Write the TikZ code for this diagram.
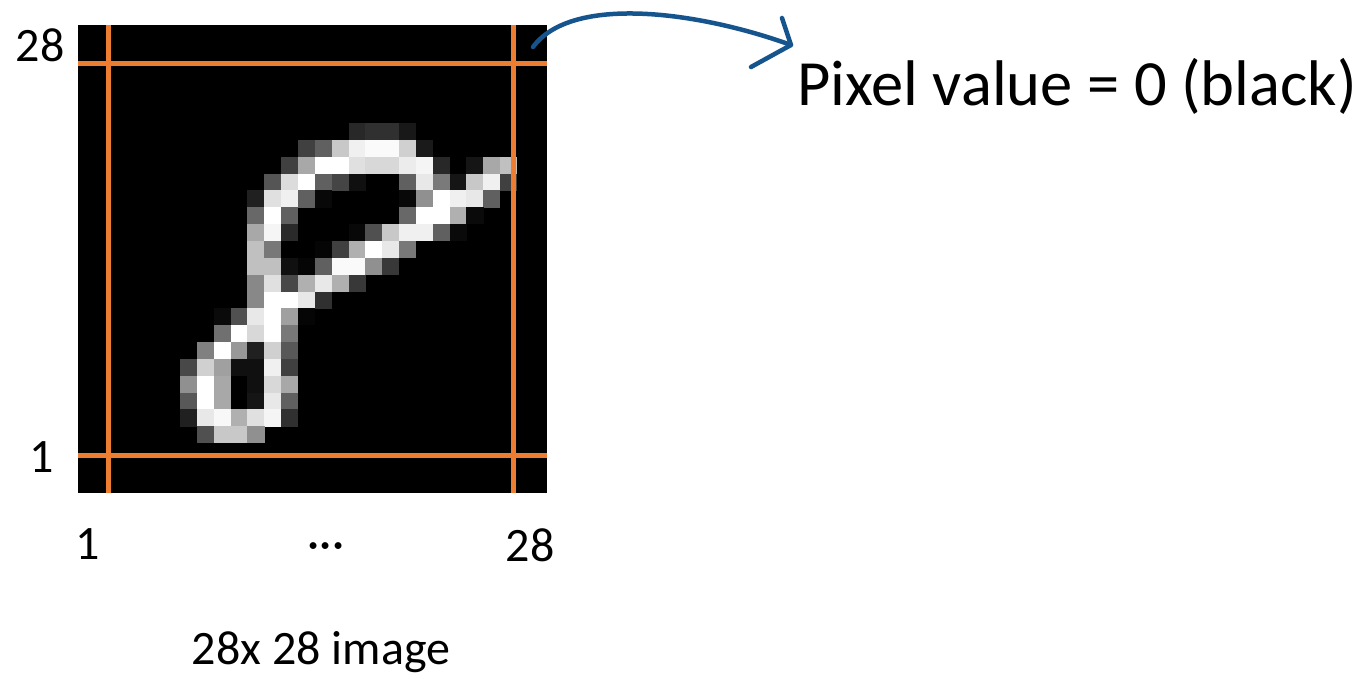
\documentclass[tikz,border=0pt]{standalone}
\usepackage{fontspec}
\setmainfont{Carlito}
\definecolor{gridorange}{RGB}{237,125,49}
\definecolor{inkblue}{RGB}{22,84,142}
\begin{document}
\begin{tikzpicture}[x=1pt,y=-1pt,
  axislabel/.style={font=\fontsize{48}{57}\selectfont, inner sep=0pt, anchor=base},
  bigtext/.style={font=\fontsize{64.5}{77}\selectfont, inner sep=0pt, anchor=base west},
  gridline/.style={draw=gridorange, line width=5pt},
  handarrow/.style={draw=inkblue, line width=4.5pt, line cap=round, line join=round},
  pixelbox/.style={fill=black, draw=none, inner sep=0pt, minimum width=469pt, minimum height=468pt, anchor=north west}]
\useasboundingbox (0,0) rectangle (1368,678);
\fill[white] (0,0) rectangle (1368,678);

% the 28x28 grayscale digit
\node[pixelbox] (digit) at (78,25) {};
\begin{scope}
  \clip (78,25) rectangle (547,493);
  \foreach \c/\r/\g in {
    16/6/40, 17/6/48, 18/6/48, 19/6/24,
    13/7/64, 14/7/96, 15/7/200, 16/7/240, 17/7/250, 18/7/250, 19/7/208, 20/7/26,
    12/8/64, 13/8/168, 14/8/255, 15/8/255, 16/8/224, 17/8/216, 18/8/216, 19/8/236, 20/8/245, 21/8/40, 23/8/21, 24/8/168, 25/8/192,
    11/9/85, 12/9/220, 13/9/255, 14/9/96, 15/9/69, 16/9/16, 19/9/96, 20/9/232, 21/9/122, 22/9/21, 23/9/200, 24/9/240, 25/9/64,
    10/10/32, 11/10/224, 12/10/240, 13/10/96, 14/10/8, 19/10/8, 20/10/144, 21/10/255, 22/10/240, 23/10/232, 24/10/96,
    10/11/104, 11/11/255, 12/11/96, 19/11/104, 20/11/255, 21/11/255, 22/11/176, 23/11/10,
    10/12/168, 11/12/245, 12/12/42, 16/12/8, 17/12/80, 18/12/200, 19/12/240, 20/12/240, 21/12/96, 22/12/10,
    10/13/192, 11/13/120, 14/13/5, 15/13/64, 16/13/176, 17/13/255, 18/13/232, 19/13/120,
    10/14/192, 11/14/192, 12/14/16, 13/14/5, 14/14/96, 15/14/250, 16/14/250, 17/14/144, 18/14/56,
    10/15/136, 11/15/224, 12/15/72, 13/15/176, 14/15/232, 15/15/176, 16/15/56,
    10/16/136, 11/16/255, 12/16/255, 13/16/232, 14/16/48,
    8/17/10, 9/17/80, 10/17/232, 11/17/255, 12/17/160, 13/17/5,
    8/18/112, 9/18/255, 10/18/216, 11/18/255, 12/18/120,
    7/19/128, 8/19/255, 9/19/152, 10/19/32, 11/19/208, 12/19/88,
    6/20/72, 7/20/208, 8/20/160, 9/20/16, 10/20/16, 11/20/240, 12/20/64,
    6/21/144, 7/21/255, 8/21/168, 10/21/16, 11/21/216, 12/21/168,
    6/22/88, 7/22/255, 8/22/168, 10/22/21, 11/22/232, 12/22/96,
    6/23/32, 7/23/232, 8/23/248, 9/23/176, 10/23/224, 11/23/245, 12/23/48,
    7/24/80, 8/24/200, 9/24/200, 10/24/144}
  {
    \fill[fill={rgb,255:red,\g;green,\g;blue,\g}]
      ({78.9+16.85*\c},{21.9+16.85*\r}) rectangle +(17.1,17.1);
  }
\end{scope}

% marker lines for the first and last rows and columns
\draw[gridline] (108.5,25) -- (108.5,493);
\draw[gridline] (513.5,25) -- (513.5,493);
\draw[gridline] (78,63.5) -- (547,63.5);
\draw[gridline] (78,455) -- (547,455);

% axis labels
\node[axislabel] (ytop) at (40,61) {28};
\node[axislabel] (ybottom) at (42,472) {1};
\node[axislabel] (xleft) at (88,559) {1};
\node[axislabel] (xdots) at (326,559) {\textperiodcentered\textperiodcentered\textperiodcentered};
\node[axislabel] (xright) at (530,561) {28};
\node[axislabel] (caption) at (321,664) {28x 28 image};

% annotation for the corner pixel
\node[bigtext] (pixtext) at (797,105) {Pixel value = 0 (black)};
\coordinate (arcfrom) at (533,47);
\coordinate (arctip) at (791,45);
\coordinate (headtop) at (782,18);
\coordinate (headlow) at (751,67);
\draw[handarrow] (arcfrom) .. controls (572,-6) and (700,12) .. (arctip);
\draw[handarrow] (headtop) -- (arctip) -- (headlow);
\end{tikzpicture}
\end{document}
